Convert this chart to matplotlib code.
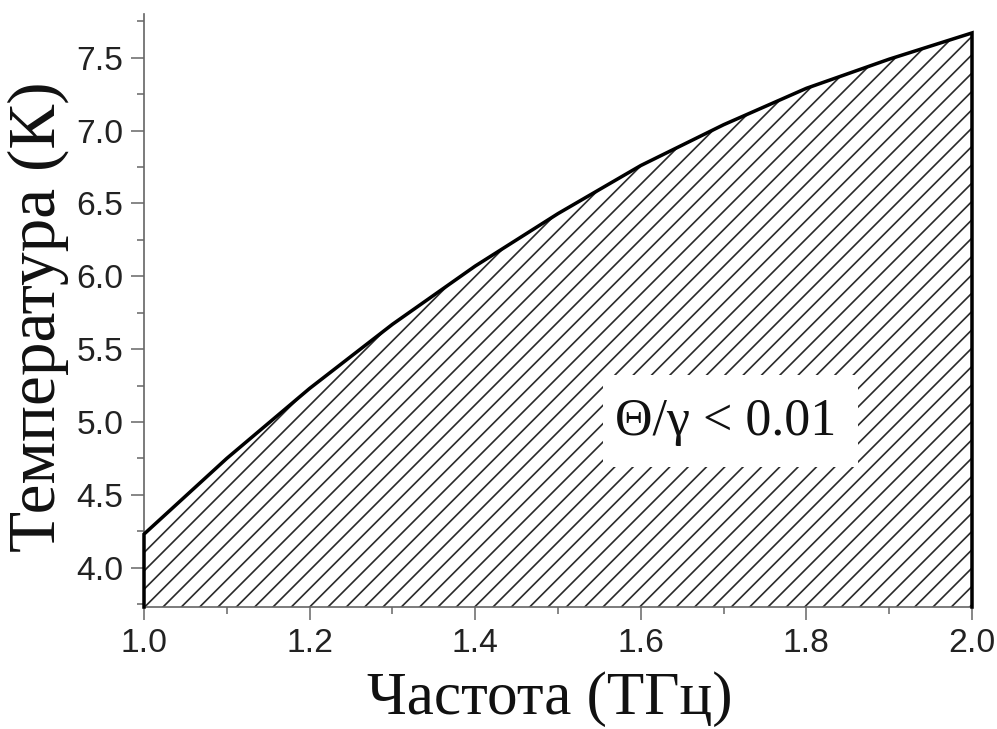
import matplotlib
matplotlib.use("Agg")
import matplotlib.pyplot as plt
from matplotlib.patches import Rectangle
from matplotlib.ticker import MultipleLocator, FormatStrFormatter

# Boundary of the region where Theta/gamma < 0.01
freq_thz = [1.0, 1.1, 1.2, 1.3, 1.4, 1.5, 1.6, 1.7, 1.8, 1.9, 2.0]
temp_k = [4.23, 4.75, 5.23, 5.67, 6.07, 6.43, 6.76, 7.04, 7.29, 7.49, 7.67]

x_label = "Частота (ТГц)"
y_label = "Температура (К)"
region_label = "Θ/γ < 0.01"

x_limits = (1.0, 2.0)
y_limits = (3.73, 7.80)

DPI = 110
fig = plt.figure(figsize=(997 / DPI, 729 / DPI), dpi=DPI)
ax = fig.add_axes([144 / 997, 1 - 607 / 729, 828 / 997, 593 / 729])

plt.rcParams["hatch.linewidth"] = 1.1
plt.rcParams["hatch.color"] = "#2a2a2a"

ax.set_xlim(*x_limits)
ax.set_ylim(*y_limits)
y0 = y_limits[0]

# hatched area under the curve
ax.fill_between(freq_thz, y0, temp_k, facecolor="none", edgecolor="#2a2a2a",
                hatch="//", linewidth=0, zorder=1)

# outline: left edge, curve, right edge
xs = [freq_thz[0]] + freq_thz + [freq_thz[-1]]
ys = [y0] + temp_k + [y0]
ax.plot(xs, ys, color="black", linewidth=2.3, solid_joinstyle="miter",
        clip_on=False, zorder=3)

# label box
ax.add_patch(Rectangle((0.554, 0.236), 0.308, 0.155, transform=ax.transAxes,
                       facecolor="white", edgecolor="none", zorder=2))
ax.text(0.702, 0.312, region_label, transform=ax.transAxes, ha="center",
        va="center", fontsize=34, family="Liberation Serif", color="#111111",
        zorder=4)

for side in ("top", "right"):
    ax.spines[side].set_visible(False)
for side in ("left", "bottom"):
    ax.spines[side].set_color("#666666")
    ax.spines[side].set_linewidth(1.1)

ax.xaxis.set_major_locator(MultipleLocator(0.2))
ax.xaxis.set_minor_locator(MultipleLocator(0.1))
ax.yaxis.set_major_locator(MultipleLocator(0.5))
ax.yaxis.set_minor_locator(MultipleLocator(0.25))
ax.xaxis.set_major_formatter(FormatStrFormatter("%.1f"))
ax.yaxis.set_major_formatter(FormatStrFormatter("%.1f"))

ax.tick_params(which="major", direction="out", length=8.5, width=1.0,
               color="#666666", labelsize=22, labelcolor="#222222", pad=5)
ax.tick_params(which="minor", direction="out", length=4.5, width=1.0,
               color="#666666")
for lab in ax.get_xticklabels() + ax.get_yticklabels():
    lab.set_family("Liberation Sans")

fig.text(550 / 997, 1 - 714 / 729, x_label, ha="center", va="baseline",
         fontsize=40, family="Liberation Serif", color="#111111")
ax.set_ylabel(y_label, fontsize=44, family="Liberation Serif", color="#111111")
ax.yaxis.set_label_coords(-0.09, 0.49)

fig.savefig("out.png", dpi=DPI)
